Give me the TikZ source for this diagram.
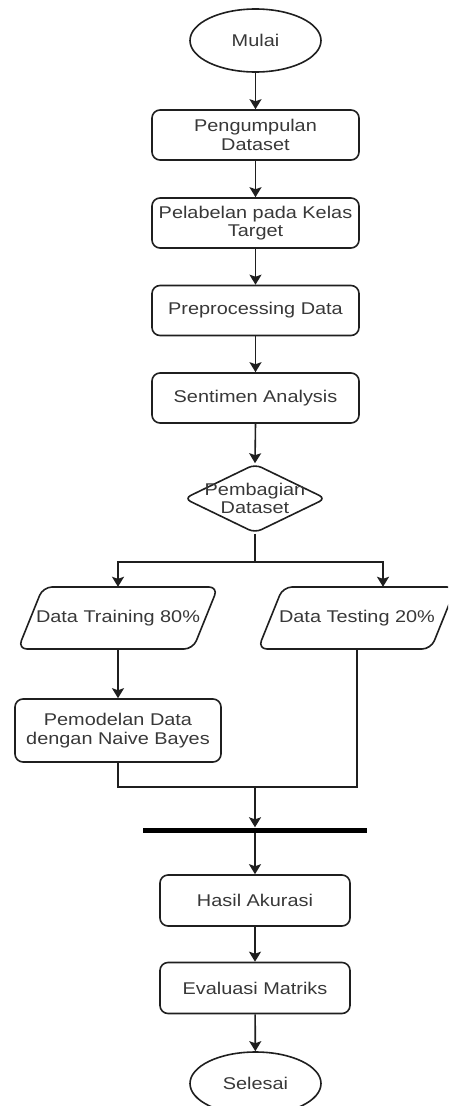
\documentclass[tikz,border=0pt]{standalone}
\usepackage{fontspec}
\setmainfont{Liberation Sans}[FakeStretch=1.17]
\usetikzlibrary{shapes.geometric,arrows.meta,calc}
\begin{document}
\begin{tikzpicture}[x=1pt,y=-1pt,
  txt/.style={font=\fontsize{17}{18.5}\selectfont, text=black!78, align=center},
  ln/.style={line width=1.6pt, draw=black!88},
  arrow/.style={ln, -{Stealth[length=10pt,width=12pt,inset=2pt]}},
  terminal/.style={txt, ln, ellipse, minimum width=131pt, minimum height=63pt, inner sep=0pt},
  procbox/.style={txt, ln, rounded corners=8pt, minimum width=207pt, minimum height=50pt, inner sep=1pt},
  smallbox/.style={procbox, minimum width=190pt, minimum height=51pt},
  parabox/.style={txt, minimum width=150pt, minimum height=62pt, inner sep=0pt},
  para/.style={ln, rounded corners=9pt},
  decision/.style={ln, diamond, minimum width=142pt, minimum height=69pt, inner sep=0pt, rounded corners=7pt, aspect=2},
  barnode/.style={fill=black, minimum width=224pt, minimum height=5pt, inner sep=0pt}
]
\useasboundingbox (0,0) rectangle (448,1106);
\clip (0,0) rectangle (448,1106);

\node[terminal] (mulai) at (255.5,40.5) {Mulai};
\node[procbox] (b1) at (255.5,135) {Pengumpulan\\Dataset};
\node[procbox] (b2) at (255.5,223) {Pelabelan pada Kelas\\Target};
\node[procbox] (b3) at (255.5,310.5) {Preprocessing Data};
\node[procbox] (b4) at (255.5,398) {Sentimen Analysis};
\node[decision] (split) at (255,498.5) {};
\node[txt, inner sep=0pt] (splitlbl) at (255,498.5) {Pembagian\\Dataset};

\node[parabox] (train) at (118,618) {Data Training 80\%};
\draw[para] ($(train)+(-100,31)$) -- ($(train)+(75,31)$) -- ($(train)+(100,-31)$) -- ($(train)+(-75,-31)$) -- cycle;
\node[parabox] (test) at (357,618) {Data Testing 20\%};
\draw[para] ($(test)+(-99,31)$) -- ($(test)+(74,31)$) -- ($(test)+(99,-31)$) -- ($(test)+(-74,-31)$) -- cycle;

\node[procbox, minimum width=206pt, minimum height=63pt] (model) at (118,730.5) {Pemodelan Data\\dengan Naive Bayes};

\coordinate (fork) at (255,562);
\coordinate (merge) at (255,787);
\node[barnode] (bar) at (255,830) {};

\node[smallbox] (hasil) at (255,900.5) {Hasil Akurasi};
\node[smallbox] (eval) at (255,988) {Evaluasi Matriks};
\node[terminal] (selesai) at (255.5,1083.5) {Selesai};

\draw[arrow] (mulai) -- (b1);
\draw[arrow] (b1) -- (b2);
\draw[arrow] (b2) -- (b3);
\draw[arrow] (b3) -- (b4);
\draw[arrow] (b4.south) -- (split.north);
\draw[ln] (split.south) -- (fork);
\draw[arrow] (fork) -| (train.north);
\draw[arrow] (fork) -| ([xshift=26pt]test.north);
\draw[arrow] (train.south) -- (model.north);
\draw[ln] (model.south) -- (model.south |- merge) -- (test.south |- merge) -- (test.south);
\draw[arrow] (merge) -- (bar.north);
\draw[arrow] (bar.south) -- (hasil.north);
\draw[arrow] (hasil) -- (eval);
\draw[arrow] (eval) -- (selesai);
\end{tikzpicture}
\end{document}
